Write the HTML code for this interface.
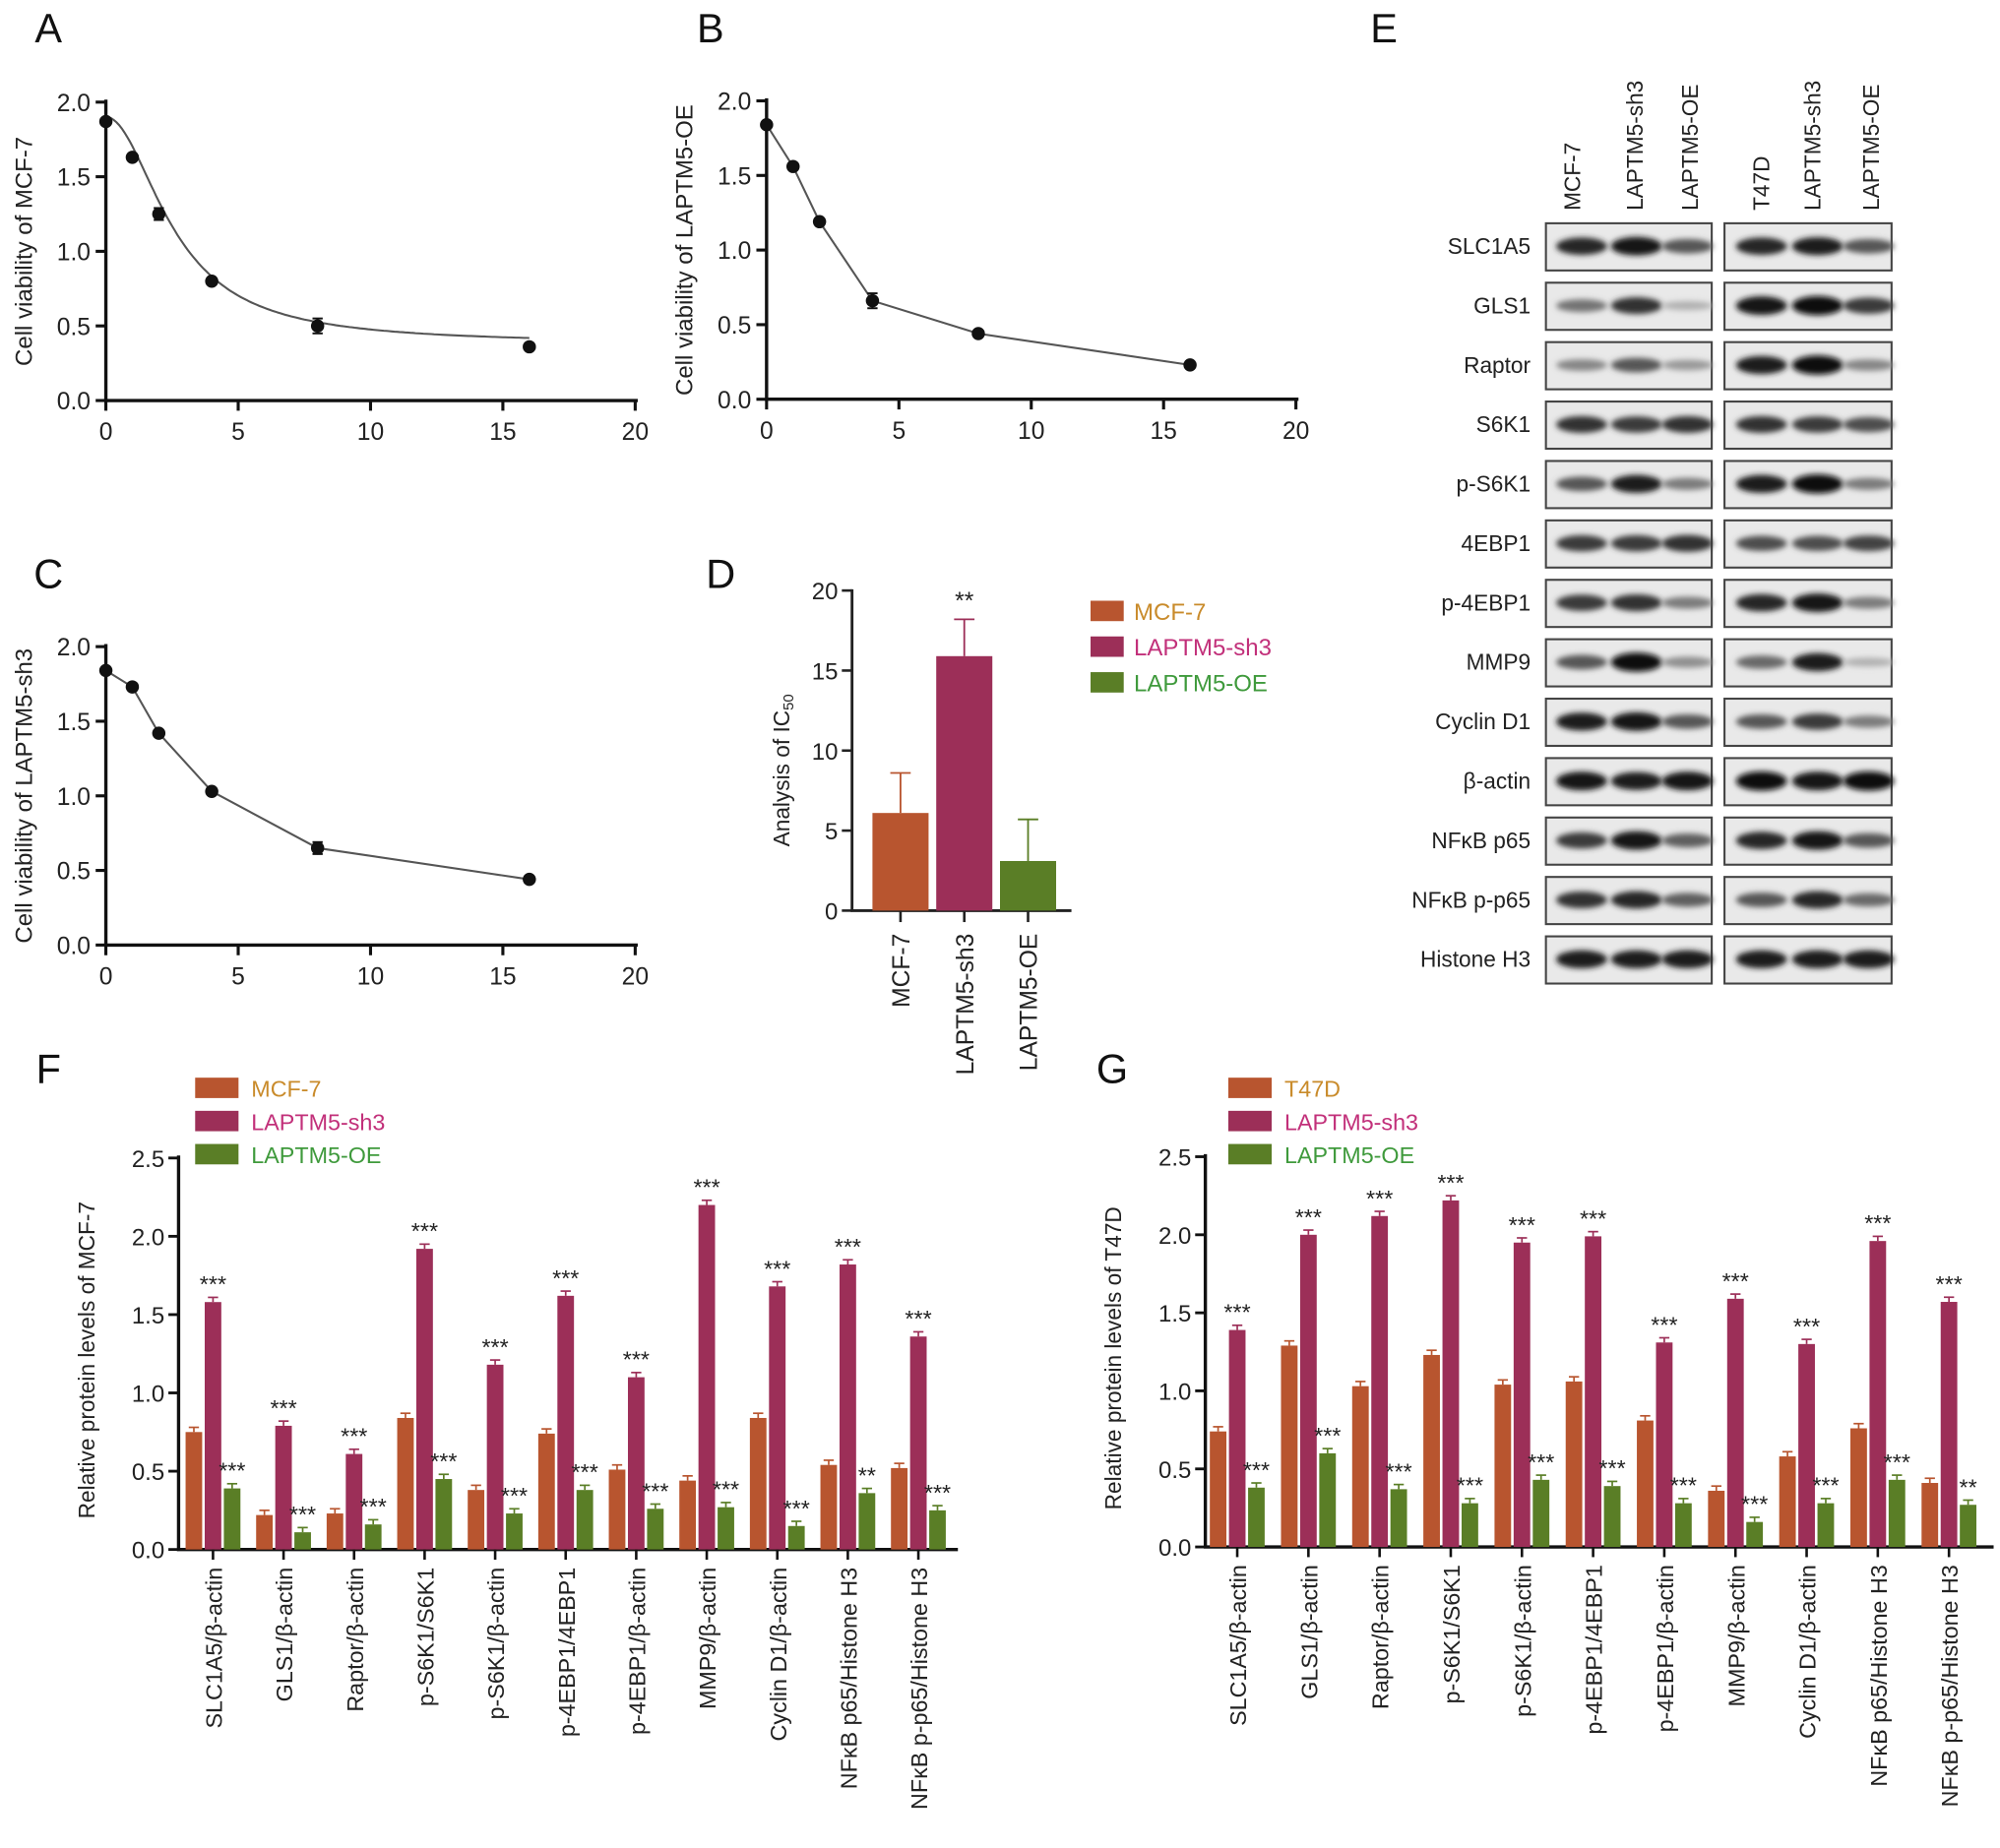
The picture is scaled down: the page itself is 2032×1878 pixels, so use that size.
<!DOCTYPE html>
<html><head><meta charset="utf-8"><style>
html,body{margin:0;padding:0;background:#fff;}
svg{display:block;font-family:"Liberation Sans",Arial,sans-serif;}
</style></head><body>
<svg id="fig" width="2032" height="1878" viewBox="0 0 1568 1449" xmlns="http://www.w3.org/2000/svg">
<defs><filter id="blur" x="-20%" y="-100%" width="140%" height="300%"><feGaussianBlur stdDeviation="2.2"/></filter></defs>
</svg>
<script>
// ---------- data ----------
var doseX = [0, 1, 2, 4, 8, 16];
var viabA = [1.87, 1.63, 1.25, 0.80, 0.50, 0.36];
var errA = [0.02, 0.02, 0.04, 0.02, 0.05, 0.02];
var viabB = [1.84, 1.56, 1.19, 0.66, 0.44, 0.23];
var errB = [0.02, 0.02, 0.02, 0.05, 0.02, 0.02];
var viabC = [1.84, 1.73, 1.42, 1.03, 0.65, 0.44];
var errC = [0.02, 0.02, 0.02, 0.02, 0.04, 0.02];
var fitA = [0.38, 1.90, 2.6, 2.0]; // bottom, top, IC50, hill
var xTicks = [0, 5, 10, 15, 20];
var yTicksViab = [0, 0.5, 1.0, 1.5, 2.0];
var yTickLabelsViab = ["0.0", "0.5", "1.0", "1.5", "2.0"];

var groupsD = ["MCF-7", "LAPTM5-sh3", "LAPTM5-OE"];
var ic50 = [6.1, 15.9, 3.1];
var ic50Err = [2.5, 2.3, 2.6];
var ic50Sig = ["", "**", ""];
var yTicksD = [0, 5, 10, 15, 20];

var proteinCats = ["SLC1A5/β-actin","GLS1/β-actin","Raptor/β-actin","p-S6K1/S6K1","p-S6K1/β-actin","p-4EBP1/4EBP1","p-4EBP1/β-actin","MMP9/β-actin","Cyclin D1/β-actin","NFκB p65/Histone H3","NFκB p-p65/Histone H3"];
var fCtrl = [0.75,0.22,0.23,0.84,0.38,0.74,0.51,0.44,0.84,0.54,0.52];
var fSh3  = [1.58,0.79,0.61,1.92,1.18,1.62,1.10,2.20,1.68,1.82,1.36];
var fOE   = [0.39,0.11,0.16,0.45,0.23,0.38,0.26,0.27,0.15,0.36,0.25];
var fSh3Sig = ["***","***","***","***","***","***","***","***","***","***","***"];
var fOESig  = ["***","***","***","***","***","***","***","***","***","**","***"];
var gCtrl = [0.74,1.29,1.03,1.23,1.04,1.06,0.81,0.36,0.58,0.76,0.41];
var gSh3  = [1.39,2.00,2.12,2.22,1.95,1.99,1.31,1.59,1.30,1.96,1.57];
var gOE   = [0.38,0.60,0.37,0.28,0.43,0.39,0.28,0.16,0.28,0.43,0.27];
var gSh3Sig = ["***","***","***","***","***","***","***","***","***","***","***"];
var gOESig  = ["***","***","***","***","***","***","***","***","***","***","**"];
var yTicksP = [0, 0.5, 1.0, 1.5, 2.0, 2.5];
var yTickLabelsP = ["0.0","0.5","1.0","1.5","2.0","2.5"];

var blotRows = ["SLC1A5","GLS1","Raptor","S6K1","p-S6K1","4EBP1","p-4EBP1","MMP9","Cyclin D1","β-actin","NFκB p65","NFκB p-p65","Histone H3"];
var blotLanes = ["MCF-7","LAPTM5-sh3","LAPTM5-OE","T47D","LAPTM5-sh3","LAPTM5-OE"];
var blotIntensity = [
 [0.85,0.95,0.6, 0.85,0.9,0.6],
 [0.45,0.8,0.12, 0.95,1.0,0.75],
 [0.35,0.6,0.25, 0.9,1.0,0.35],
 [0.8,0.75,0.8, 0.8,0.75,0.65],
 [0.6,0.9,0.4, 0.9,1.0,0.4],
 [0.75,0.75,0.8, 0.65,0.65,0.7],
 [0.75,0.8,0.4, 0.85,0.95,0.4],
 [0.6,1.0,0.3, 0.5,0.9,0.12],
 [0.9,0.95,0.6, 0.6,0.75,0.4],
 [0.95,0.9,0.95, 1.0,0.95,1.0],
 [0.75,0.95,0.55, 0.85,0.95,0.6],
 [0.8,0.85,0.55, 0.6,0.85,0.5],
 [0.9,0.9,0.9, 0.9,0.9,0.9]
];

var C_CTRL = "#b8552f", C_SH3 = "#9c2f58", C_OE = "#5a7e26";
var T_CTRL = "#c98b2b", T_SH3 = "#c2307a", T_OE = "#3f9a3c";

// ---------- helpers ----------
var svg = document.getElementById('fig');
var NS = "http://www.w3.org/2000/svg";
function el(tag, attrs, parent) {
  var e = document.createElementNS(NS, tag);
  for (var k in attrs) e.setAttribute(k, attrs[k]);
  (parent || svg).appendChild(e);
  return e;
}
function txt(s, x, y, size, anchor, fill, parent, rot) {
  var t = el('text', {x: x, y: y, 'font-size': size, 'text-anchor': anchor || 'middle', fill: fill || '#222'}, parent);
  if (rot) t.setAttribute('transform', 'rotate(' + rot + ' ' + x + ' ' + y + ')');
  t.textContent = s;
  return t;
}
function lin(d0, d1, r0, r1) { return function (v) { return r0 + (v - d0) / (d1 - d0) * (r1 - r0); }; }
function grp(name) {
  var g = el('g', {});
  
  
  return g;
}
function letter(s, x, y) {
  var t = txt(s, x, y, 32, 'middle', '#111');
  
  
}

// ---------- dose-response panels ----------
function dosePanel(name, x0, x1, y0, y1, vals, errs, ytitle, fit) {
  var g = grp(name);
  var sx = lin(0, 20, x0, x1), sy = lin(0, 2, y0, y1);
  var ax = el('path', {d: 'M' + x0 + ' ' + (y1 - 2) + 'V' + y0 + 'H' + (x1 + 2), stroke: '#111', 'stroke-width': 2.6, fill: 'none'}, g);
  
  
  xTicks.forEach(function (v) {
    el('line', {x1: sx(v), x2: sx(v), y1: y0, y2: y0 + 8, stroke: '#111', 'stroke-width': 2.4}, g);
    var t = txt(String(v), sx(v), y0 + 31, 19, 'middle', '#222', g);
    
    
  });
  yTicksViab.forEach(function (v, i) {
    el('line', {x1: x0 - 8, x2: x0, y1: sy(v), y2: sy(v), stroke: '#111', 'stroke-width': 2.4}, g);
    var t = txt(yTickLabelsViab[i], x0 - 12, sy(v) + 7, 19, 'end', '#222', g);
    
    
  });
  var yt = txt(ytitle, x0 - 58, (y0 + y1) / 2, 18.5, 'middle', '#222', g, -90);
  
  
  var d = '';
  if (fit) {
    for (var x = 0; x <= 16.05; x += 0.1) {
      var y = fit[0] + (fit[1] - fit[0]) / (1 + Math.pow(x / fit[2], fit[3]));
      d += (d ? 'L' : 'M') + sx(x).toFixed(1) + ' ' + sy(y).toFixed(1);
    }
  } else {
    vals.forEach(function (v, i) { d += (i ? 'L' : 'M') + sx(doseX[i]) + ' ' + sy(v); });
  }
  var line = el('path', {d: d, stroke: '#555', 'stroke-width': 1.6, fill: 'none'}, g);
  
  
  vals.forEach(function (v, i) {
    var cx = sx(doseX[i]);
    el('line', {x1: cx, x2: cx, y1: sy(v + errs[i]), y2: sy(v - errs[i]), stroke: '#111', 'stroke-width': 1.5}, g);
    el('line', {x1: cx - 4, x2: cx + 4, y1: sy(v + errs[i]), y2: sy(v + errs[i]), stroke: '#111', 'stroke-width': 1.5}, g);
    el('line', {x1: cx - 4, x2: cx + 4, y1: sy(v - errs[i]), y2: sy(v - errs[i]), stroke: '#111', 'stroke-width': 1.5}, g);
    var c = el('circle', {cx: cx, cy: sy(v), r: 5.2, fill: '#111'}, g);
    
    
  });
}
letter('A', 38, 33);
dosePanel('panel-a-chart', 83, 498, 314, 80, viabA, errA, 'Cell viability of MCF-7', fitA);
letter('B', 557, 33);
dosePanel('panel-b-chart', 601, 1016, 313, 79, viabB, errB, 'Cell viability of LAPTM5-OE', null);
letter('C', 38, 461);
dosePanel('panel-c-chart', 83, 498, 741, 507, viabC, errC, 'Cell viability of LAPTM5-sh3', null);

// ---------- panel D ----------
letter('D', 565, 461);
(function () {
  var g = grp('panel-d-chart');
  var x0 = 668, x1 = 840, y0 = 714, y1 = 463;
  var sy = lin(0, 20, y0, y1);
  var cols = [C_CTRL, C_SH3, C_OE];
  var ax = el('path', {d: 'M' + x0 + ' ' + (y1 - 1) + 'V' + y0 + 'H' + x1, stroke: '#222', 'stroke-width': 2.2, fill: 'none'}, g);
  
  
  yTicksD.forEach(function (v) {
    el('line', {x1: x0 - 8, x2: x0, y1: sy(v), y2: sy(v), stroke: '#222', 'stroke-width': 2}, g);
    var t = txt(String(v), x0 - 11, sy(v) + 7, 18.5, 'end', '#222', g);
    
    
  });
  var yt = txt('Analysis of IC', 619, 604, 17.5, 'middle', '#222', g, -90);
  var sub = el('tspan', {'font-size': 11.5, dy: 3}, yt);
  sub.textContent = '50';
  
  
  groupsD.forEach(function (name, i) {
    var cx = 706 + i * 50;
    var top = sy(ic50[i]);
    var r = el('rect', {x: cx - 22, y: top, width: 44, height: y0 - top, fill: cols[i]}, g);
    
    
    var e = sy(ic50[i] + ic50Err[i]);
    el('line', {x1: cx, x2: cx, y1: top, y2: e, stroke: cols[i], 'stroke-width': 1.4}, g);
    el('line', {x1: cx - 8, x2: cx + 8, y1: e, y2: e, stroke: cols[i], 'stroke-width': 1.4}, g);
    if (ic50Sig[i]) txt(ic50Sig[i], cx, e - 8, 19, 'middle', '#222', g);
    el('line', {x1: cx, x2: cx, y1: y0, y2: y0 + 9, stroke: '#222', 'stroke-width': 2}, g);
    var t = txt(name, cx + 7, y0 + 18, 19, 'end', '#222', g, -90);
    
    
  });
  var lg = grp('legend-d');
  var tc = [T_CTRL, T_SH3, T_OE];
  groupsD.forEach(function (name, i) {
    var y = 471 + i * 28;
    el('rect', {x: 855, y: y, width: 26, height: 16, fill: cols[i]}, lg);
    var t = txt(name, 889, y + 15, 18.5, 'start', tc[i], lg);
    
    
  });
})();

// ---------- panel E blots ----------
letter('E', 1085, 33);
(function () {
  var g = grp('panel-e-western-blot');
  var laneX = [1240, 1283, 1323, 1381, 1425, 1465];
  var labX = [1233, 1282, 1325, 1381, 1421, 1467];
  blotLanes.forEach(function (s, i) {
    var t = txt(s, labX[i] + 6, 165, 17.5, 'start', '#222', g, -90);
    
    
  });
  blotRows.forEach(function (name, r) {
    var cy = 193 + r * 46.6;
    var t = txt(name, 1200, cy + 6, 17.5, 'end', '#222', g);
    
    
    [[1212, 1342], [1352, 1483]].forEach(function (b, bi) {
      var bx = el('rect', {x: b[0], y: cy - 18, width: b[1] - b[0], height: 37, fill: '#e9e9e9', stroke: '#444', 'stroke-width': 1.6}, g);
      
      
      for (var l = 0; l < 3; l++) {
        var li = bi * 3 + l;
        var v = blotIntensity[r][li];
        var shade = Math.round(200 - v * 190);
        el('ellipse', {cx: laneX[li], cy: cy, rx: 20, ry: 3 + v * 4.5, fill: 'rgb(' + shade + ',' + shade + ',' + shade + ')', filter: 'url(#blur)'}, g);
      }
    });
  });
})();

// ---------- panels F & G ----------
function proteinPanel(name, ax0, axEnd, y0, y1, firstC, spacing, ctrl, sh3, oe, sh3Sig, oeSig, ctrlName, ytitle, legX) {
  var g = grp(name);
  var sy = lin(0, 2.5, y0, y1);
  var ax = el('path', {d: 'M' + ax0 + ' ' + (y1 - 2) + 'V' + y0 + 'H' + axEnd, stroke: '#111', 'stroke-width': 2.6, fill: 'none'}, g);
  
  
  yTicksP.forEach(function (v, i) {
    el('line', {x1: ax0 - 8, x2: ax0, y1: sy(v), y2: sy(v), stroke: '#111', 'stroke-width': 2.2}, g);
    var t = txt(yTickLabelsP[i], ax0 - 11, sy(v) + 7, 18.5, 'end', '#222', g);
    
    
  });
  var yt = txt(ytitle, ax0 - 66, (y0 + y1) / 2 + 5, 17.5, 'middle', '#222', g, -90);
  
  
  var series = [[ctrl, C_CTRL, -15, null], [sh3, C_SH3, 0, sh3Sig], [oe, C_OE, 15, oeSig]];
  proteinCats.forEach(function (cat, i) {
    var cx = firstC + i * spacing;
    series.forEach(function (s) {
      var v = s[0][i], bx = cx + s[2], top = sy(v);
      var r = el('rect', {x: bx - 6.5, y: top, width: 13, height: y0 - top, fill: s[1]}, g);
      
      
      var e = sy(v + 0.03);
      el('line', {x1: bx, x2: bx, y1: top, y2: e, stroke: s[1], 'stroke-width': 1.3}, g);
      el('line', {x1: bx - 4, x2: bx + 4, y1: e, y2: e, stroke: s[1], 'stroke-width': 1.3}, g);
      if (s[3]) {
        var st = txt(s[3][i], bx, e - 4, 18, 'middle', '#222', g);
        
        
      }
    });
    el('line', {x1: cx, x2: cx, y1: y0, y2: y0 + 8, stroke: '#111', 'stroke-width': 2}, g);
    var t = txt(cat, cx + 7, y0 + 14, 18, 'end', '#222', g, -90);
    
    
  });
  var lg = grp(name + '-legend');
  [[ctrlName, C_CTRL, T_CTRL], ['LAPTM5-sh3', C_SH3, T_SH3], ['LAPTM5-OE', C_OE, T_OE]].forEach(function (L, i) {
    var y = 845 + i * 26;
    el('rect', {x: legX, y: y, width: 34, height: 16, fill: L[1]}, lg);
    var t = txt(L[0], legX + 44, y + 15, 18, 'start', L[2], lg);
    
    
  });
}
letter('F', 38, 849);
proteinPanel('panel-f-chart', 140, 751, 1215, 908, 167, 55.3, fCtrl, fSh3, fOE, fSh3Sig, fOESig, 'MCF-7', 'Relative protein levels of MCF-7', 153);
letter('G', 872, 849);
proteinPanel('panel-g-chart', 945, 1563, 1213, 907, 970, 55.8, gCtrl, gSh3, gOE, gSh3Sig, gOESig, 'T47D', 'Relative protein levels of T47D', 963);
</script>
</body></html>
